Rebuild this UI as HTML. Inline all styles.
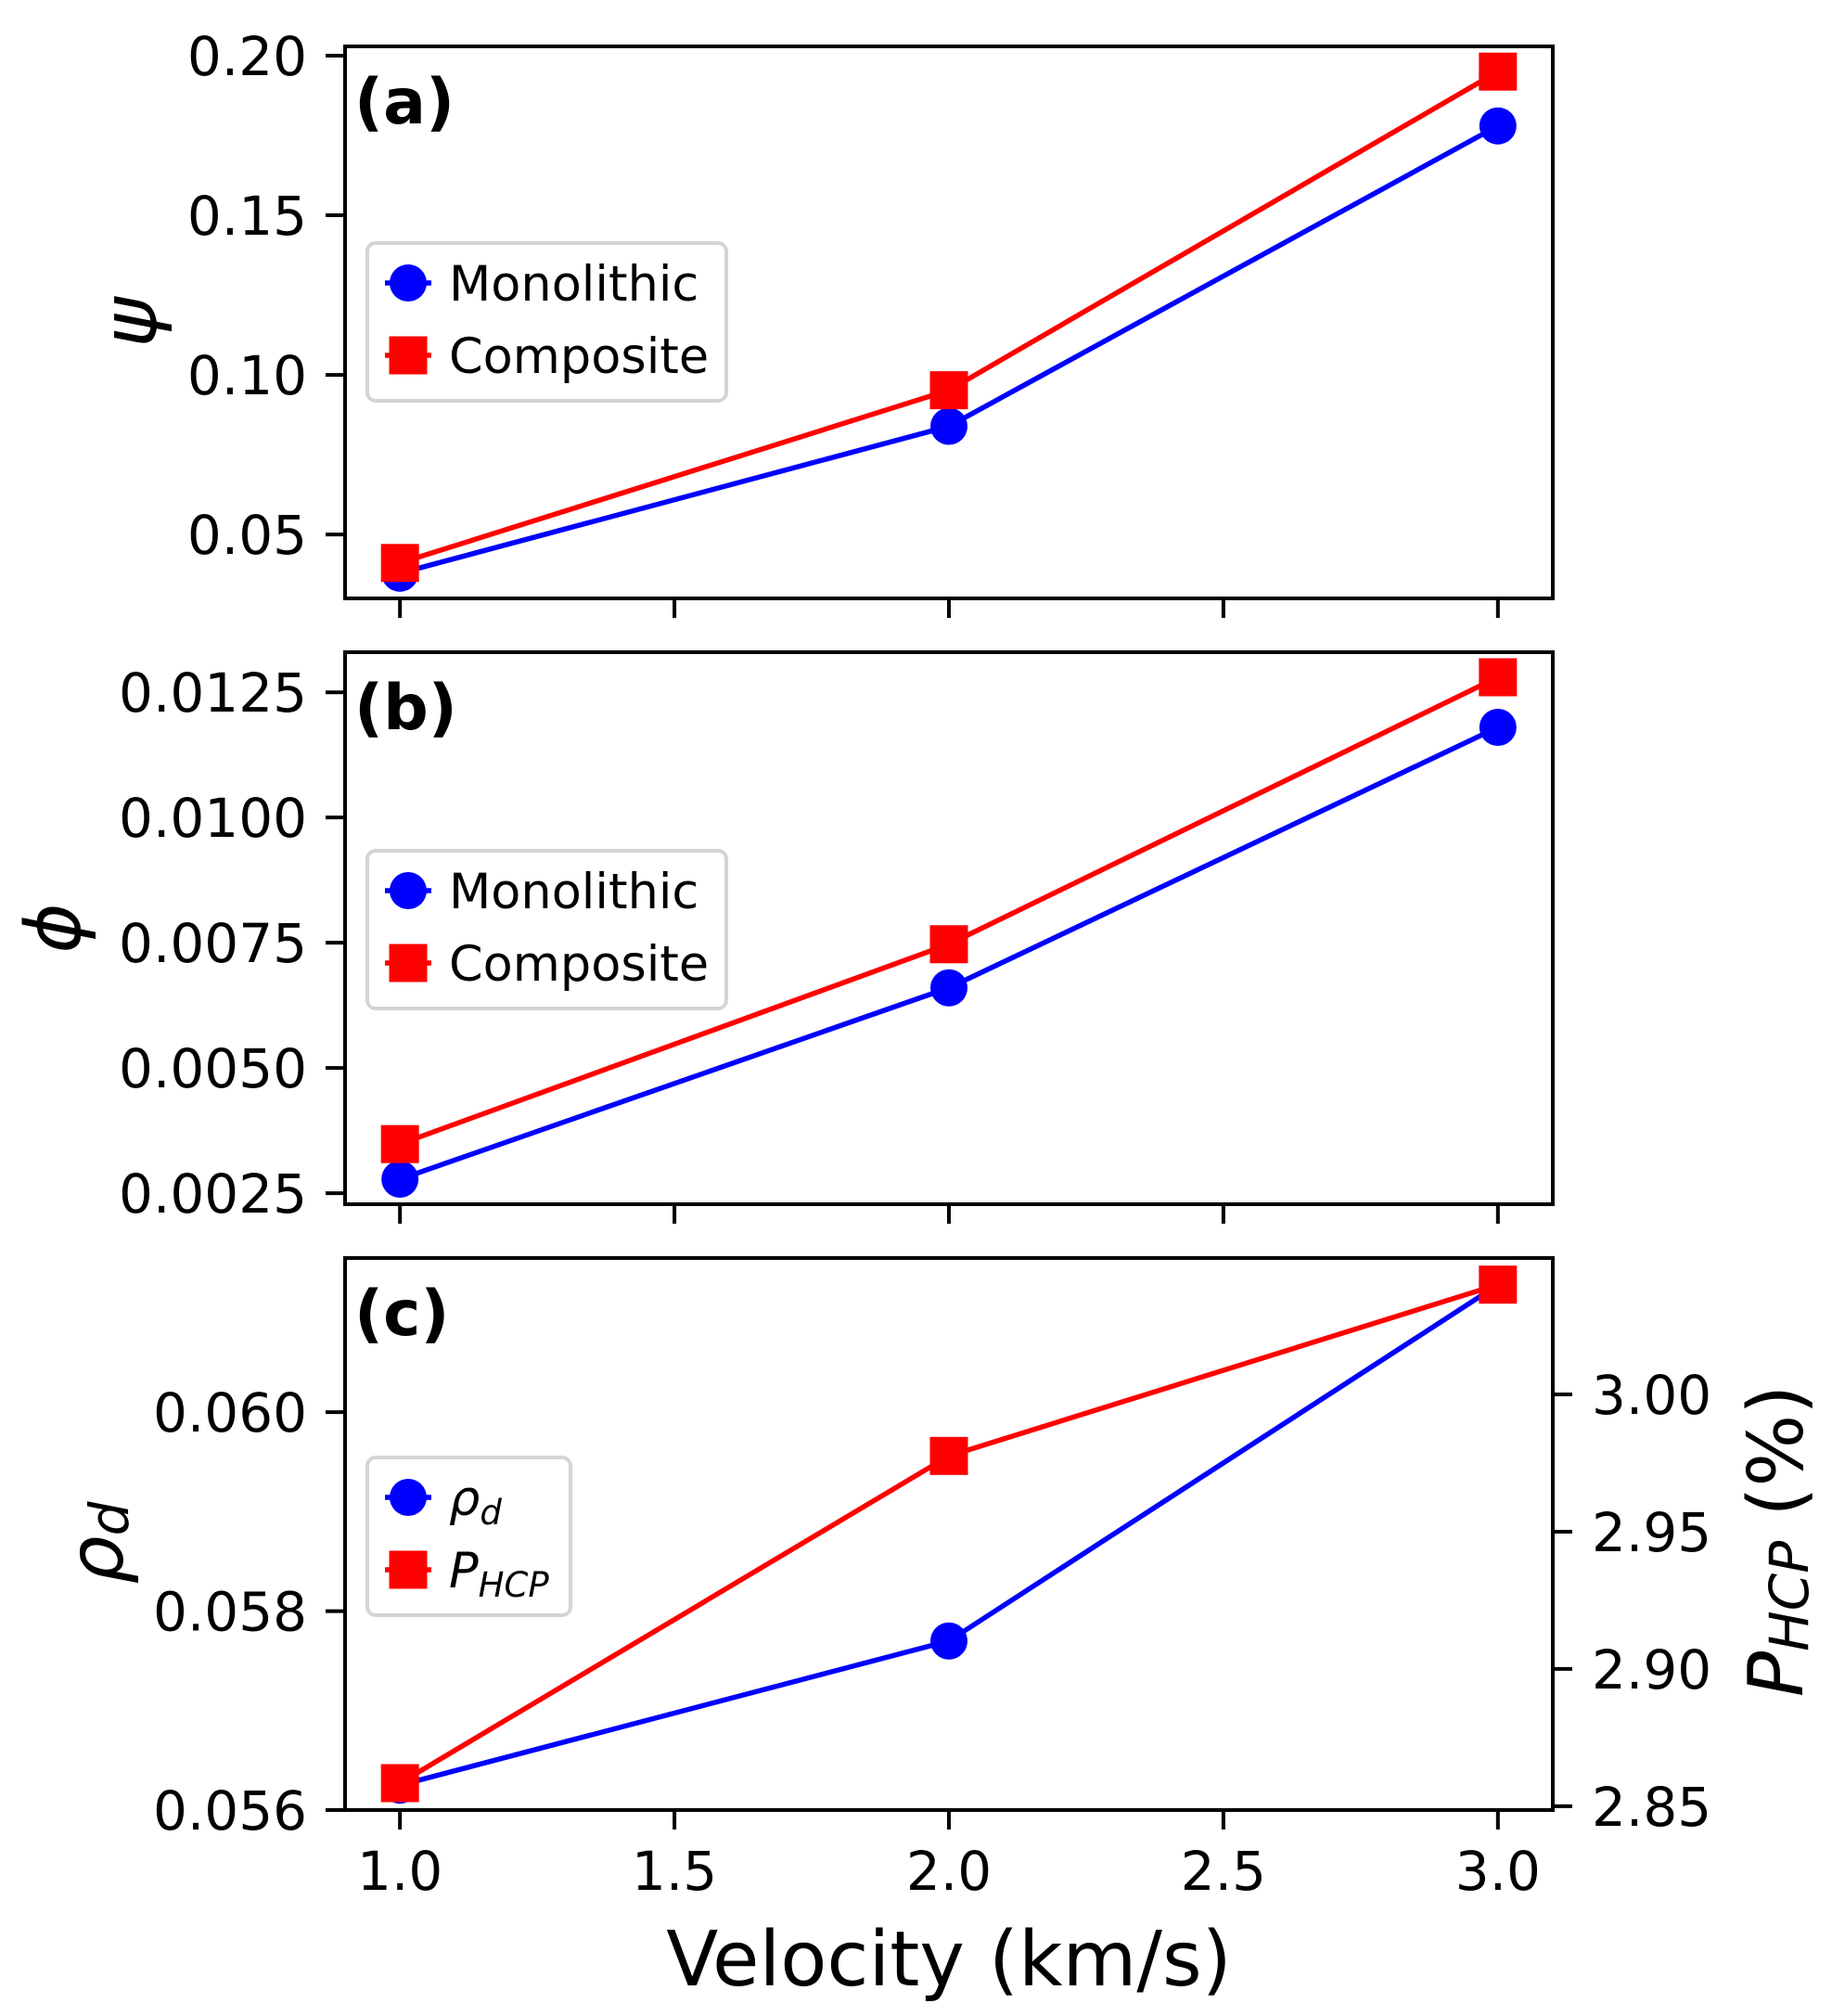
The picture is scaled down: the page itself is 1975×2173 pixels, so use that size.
<!DOCTYPE html>
<html><head><meta charset="utf-8"><style>
html,body{margin:0;padding:0;background:#fff}
svg{display:block}
text{font-family:"DejaVu Sans","Liberation Sans",sans-serif;fill:#000}
</style></head><body>
<svg id="chart" width="1975" height="2173" viewBox="0 0 1975 2173" xmlns="http://www.w3.org/2000/svg"></svg>
<script>
const velocities = [1.0, 2.0, 3.0];
const psiMono = [0.0379, 0.0839, 0.178];
const psiComp = [0.0411, 0.0952, 0.195];
const phiMono = [0.00278, 0.0066, 0.0118];
const phiComp = [0.00348, 0.00747, 0.0128];
const rhoD = [0.05625, 0.0577, 0.06128];
const pHcp = [2.8584, 2.9776, 3.040];
const xTicks = [1.0, 1.5, 2.0, 2.5, 3.0];
const xTickLabels = ["1.0", "1.5", "2.0", "2.5", "3.0"];
const psiTicks = [0.05, 0.10, 0.15, 0.20];
const psiTickLabels = ["0.05", "0.10", "0.15", "0.20"];
const phiTicks = [0.0025, 0.0050, 0.0075, 0.0100, 0.0125];
const phiTickLabels = ["0.0025", "0.0050", "0.0075", "0.0100", "0.0125"];
const rhoTicks = [0.056, 0.058, 0.060];
const rhoTickLabels = ["0.056", "0.058", "0.060"];
const pTicks = [2.85, 2.90, 2.95, 3.00];
const pTickLabels = ["2.85", "2.90", "2.95", "3.00"];

const NS = "http://www.w3.org/2000/svg";
const svg = document.getElementById("chart");
function el(tag, attrs, parent) {
  const e = document.createElementNS(NS, tag);
  for (const k in attrs) e.setAttribute(k, attrs[k]);
  (parent || svg).appendChild(e);
  return e;
}
const L = 372, R = 1674;
const xmin = 0.9, xmax = 3.1;
const LW = 5.5, SW = 4;
function xs(v) { return L + (v - xmin) / (xmax - xmin) * (R - L); }
function makeY(top, bot, lo, hi) { return v => bot - (v - lo) / (hi - lo) * (bot - top); }

function series(g, xv, yv, ys, color, marker, name) {
  const pts = xv.map((x, i) => xs(x) + "," + ys(yv[i])).join(" ");
  const pl = el("polyline", {points: pts, fill: "none", stroke: color, "stroke-width": LW, "stroke-linejoin": "round"}, g);
  
  
  xv.forEach((x, i) => {
    const cx = xs(x), cy = ys(yv[i]);
    let m;
    if (marker === "circle") m = el("circle", {cx: cx, cy: cy, r: 20, fill: color}, g);
    else m = el("rect", {x: cx - 20.5, y: cy - 20.5, width: 41, height: 41, fill: color}, g);
    
    
  });
}

function leftTicks(g, ticks, labels, ys) {
  ticks.forEach((t, i) => {
    const y = ys(t);
    const tk = el("line", {x1: L - 21, x2: L, y1: y, y2: y, stroke: "#000", "stroke-width": SW}, g);
    
    
    const tx = el("text", {x: 331, y: y + 21, "font-size": 58, "text-anchor": "end"}, g);
    tx.textContent = labels[i];
    
    
  });
}
function bottomTicks(g, bot, withLabels) {
  xTicks.forEach((t, i) => {
    const x = xs(t);
    const tk = el("line", {x1: x, x2: x, y1: bot, y2: bot + 21, stroke: "#000", "stroke-width": SW}, g);
    
    
    if (withLabels) {
      const tx = el("text", {x: x, y: 2037, "font-size": 58, "text-anchor": "middle"}, g);
      tx.textContent = xTickLabels[i];
      
      
    }
  });
}
function frame(g, top, bot) {
  const r = el("rect", {x: L, y: top, width: R - L, height: bot - top, fill: "none", stroke: "#000", "stroke-width": SW}, g);
  
  
}
function panelLabel(g, top, txt) {
  const t = el("text", {x: 382, y: top + 83, "font-size": 68, "font-weight": "bold"}, g);
  t.textContent = txt;
  
  
}
function legend(g, x0, y0, w, h, rows) {
  const lg = el("g", {}, g);
  
  
  el("rect", {x: x0, y: y0, width: w, height: h, rx: 9, fill: "#fff", "fill-opacity": 0.8, stroke: "#d4d4d4", "stroke-width": 4}, lg);
  rows.forEach((r, i) => {
    const cy = y0 + 43 + i * 78;
    const en = el("g", {}, lg);
    
    
    el("line", {x1: 415, x2: 465, y1: cy, y2: cy, stroke: r.color, "stroke-width": LW}, en);
    if (r.marker === "circle") el("circle", {cx: 440, cy: cy, r: 20, fill: r.color}, en);
    else el("rect", {x: 419.5, y: cy - 20.5, width: 41, height: 41, fill: r.color}, en);
    const t = el("text", {x: 484, y: cy + 19, "font-size": 52.5}, en);
    t.innerHTML = r.html;
  });
}
function yLabel(g, x, y, html, name) {
  const t = el("text", {x: x, y: y, "font-size": 82, "text-anchor": "middle", "dominant-baseline": "central", transform: "rotate(-90 " + x + " " + y + ")"}, g);
  t.innerHTML = html;
  
  
}

// Panel (a)
const aTop = 50, aBot = 645;
const ya = makeY(aTop, aBot, 0.0300, 0.2029);
const ga = el("g", {});


series(ga, velocities, psiMono, ya, "#0000ff", "circle", "psi-monolithic");
series(ga, velocities, psiComp, ya, "#ff0000", "square", "psi-composite");
frame(ga, aTop, aBot);
leftTicks(ga, psiTicks, psiTickLabels, ya);
bottomTicks(ga, aBot, false);
panelLabel(ga, aTop, "(a)");
legend(ga, 396, 262, 387, 170, [
  {key: "monolithic", color: "#0000ff", marker: "circle", html: "Monolithic"},
  {key: "composite", color: "#ff0000", marker: "square", html: "Composite"}]);
yLabel(ga, 140, (aTop + aBot) / 2, '<tspan font-style="italic">ψ</tspan>', 'y-axis-title-psi');

// Panel (b)
const bTop = 703, bBot = 1298;
const yb = makeY(bTop, bBot, 0.00228, 0.0133);
const gb = el("g", {});


series(gb, velocities, phiMono, yb, "#0000ff", "circle", "phi-monolithic");
series(gb, velocities, phiComp, yb, "#ff0000", "square", "phi-composite");
frame(gb, bTop, bBot);
leftTicks(gb, phiTicks, phiTickLabels, yb);
bottomTicks(gb, bBot, false);
panelLabel(gb, bTop, "(b)");
legend(gb, 396, 917, 387, 170, [
  {key: "monolithic", color: "#0000ff", marker: "circle", html: "Monolithic"},
  {key: "composite", color: "#ff0000", marker: "square", html: "Composite"}]);
yLabel(gb, 58, (bTop + bBot) / 2, '<tspan font-style="italic">ϕ</tspan>', 'y-axis-title-phi');

// Panel (c)
const cTop = 1356, cBot = 1951;
const yc = makeY(cTop, cBot, 0.0560, 0.06155);
const yc2 = makeY(cTop, cBot, 2.8486, 3.0497);
const gc = el("g", {});


series(gc, velocities, rhoD, yc, "#0000ff", "circle", "rho-d");
series(gc, velocities, pHcp, yc2, "#ff0000", "square", "p-hcp");
frame(gc, cTop, cBot);
leftTicks(gc, rhoTicks, rhoTickLabels, yc);
pTicks.forEach((t, i) => {
  const y = yc2(t);
  const tk = el("line", {x1: R, x2: R + 21, y1: y, y2: y, stroke: "#000", "stroke-width": SW}, gc);
  
  
  const tx = el("text", {x: 1716, y: y + 21, "font-size": 58}, gc);
  tx.textContent = pTickLabels[i];
  
  
});
bottomTicks(gc, cBot, true);
panelLabel(gc, cTop, "(c)");
legend(gc, 396, 1571, 219, 170, [
  {key: "rho-d", color: "#0000ff", marker: "circle", html: '<tspan font-style="italic">ρ</tspan><tspan font-style="italic" font-size="37" dy="10">d</tspan>'},
  {key: "p-hcp", color: "#ff0000", marker: "square", html: '<tspan font-style="italic">P</tspan><tspan font-style="italic" font-size="37" dy="10">HCP</tspan>'}]);
yLabel(gc, 104, 1663, '<tspan font-style="italic">ρ</tspan><tspan font-style="italic" font-size="58" dy="14">d</tspan>', 'y-axis-title-rho');
yLabel(gc, 1915, 1661, '<tspan font-style="italic">P</tspan><tspan font-style="italic" font-size="58" dy="14">HCP</tspan><tspan dy="-14"> (%)</tspan>', 'right-y-axis-title');

const xl = el("text", {x: (L + R) / 2, y: 2140, "font-size": 82, "text-anchor": "middle"});
xl.textContent = "Velocity (km/s)";


</script>
</body></html>
